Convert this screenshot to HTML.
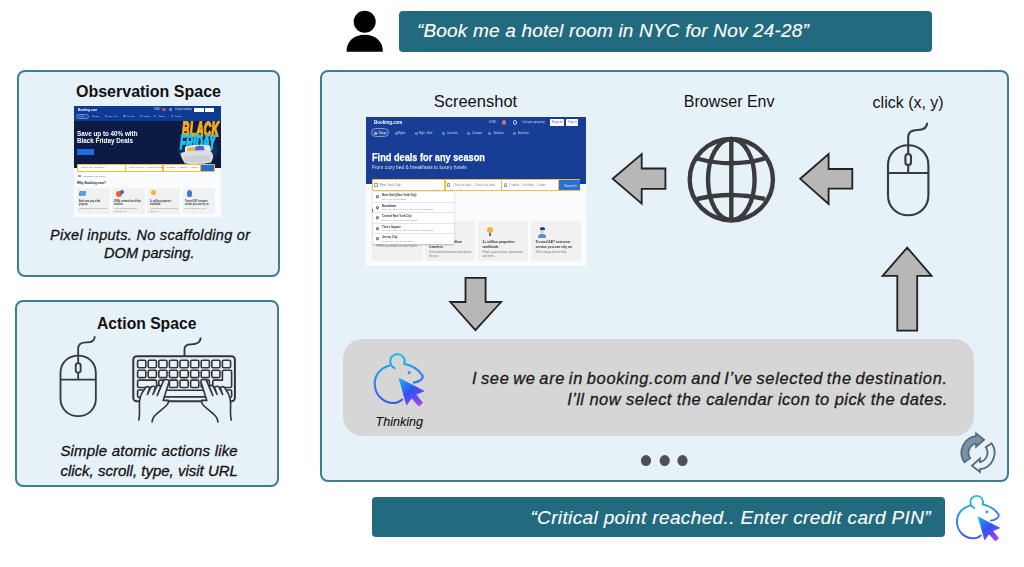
<!DOCTYPE html>
<html><head><meta charset="utf-8">
<style>
*{box-sizing:border-box;margin:0;padding:0}
html,body{width:1024px;height:567px;overflow:hidden;background:#fff}
body{position:relative;font-family:"Liberation Sans",sans-serif;color:#111}
.abs{position:absolute}
.box{position:absolute;background:#e7f1f8;border:2px solid #3e7e8e;border-radius:8px}
.banner{position:absolute;background:#226b7f;border-radius:4px;color:#fff;font-style:italic;font-size:18px;white-space:nowrap}
.t{position:absolute;white-space:nowrap;line-height:1}
.it{-webkit-text-stroke:0.3px currentColor}
svg{position:absolute;left:0;top:0;overflow:visible}
</style></head><body>

<!-- person icon -->
<svg width="1024" height="567" style="pointer-events:none">
  <circle cx="364.7" cy="21.8" r="11" fill="#000"/>
  <path d="M346.5,51.8 C346.5,41 354,34.7 364.7,34.7 C375.4,34.7 382.9,41 382.9,51.8 Z" fill="#000"/>
</svg>

<div class="banner" style="left:399px;top:11px;width:533px;height:41px"></div>
<div class="t it" id="q1" style="-webkit-text-stroke:0.12px #fff;left:417px;top:21.4px;color:#fff;font-style:italic;font-size:19px;letter-spacing:0.18px">“Book me a hotel room in NYC for Nov 24-28”</div>

<!-- observation box -->
<div class="box" style="left:17px;top:70px;width:263px;height:207px"></div>
<div class="t" id="obs" style="left:76px;top:83.75px;font-weight:bold;font-size:16px">Observation Space</div>
<div class="t it" id="px1" style="left:50px;top:227.5px;font-style:italic;font-size:14.5px;letter-spacing:0.3px">Pixel inputs. No scaffolding or</div>
<div class="t it" id="px2" style="left:104px;top:246.4px;font-style:italic;font-size:14.5px;letter-spacing:0.1px">DOM parsing.</div>

<!-- action box -->
<div class="box" style="left:15px;top:300px;width:264px;height:187px"></div>
<div class="t" id="act" style="left:97px;top:316.25px;font-weight:bold;font-size:15.7px">Action Space</div>
<div class="t it" id="sa1" style="left:60.4px;top:443.1px;font-style:italic;font-size:15px;letter-spacing:0.19px">Simple atomic actions like</div>
<div class="t it" id="sa2" style="left:60.4px;top:462.9px;font-style:italic;font-size:15px">click, scroll, type, visit URL</div>

<!-- main box -->
<div class="box" style="left:320px;top:70px;width:689px;height:412px"></div>
<div class="t" id="ss" style="left:433.7px;top:93.1px;font-size:16.5px">Screenshot</div>
<div class="t" id="be" style="left:683.8px;top:93.75px;font-size:16px">Browser Env</div>
<div class="t" id="cl" style="left:872.6px;top:94.95px;font-size:16px">click (x, y)</div>

<!-- thinking bubble -->
<div class="abs" style="left:343px;top:339px;width:631px;height:97px;background:#d6d6d6;border-radius:20px"></div>
<div class="t it" id="th" style="-webkit-text-stroke:0.1px #111;left:375.5px;top:415.7px;font-style:italic;font-size:12.6px">Thinking</div>
<div class="t it" id="l1" style="right:76.3px;top:370.2px;font-style:italic;font-size:16.4px;letter-spacing:0.7px;word-spacing:-1.5px;color:#1a1a1a">I see we are in booking.com and I’ve selected the destination.</div>
<div class="t it" id="l2" style="right:76.3px;top:391px;font-style:italic;font-size:16.5px;letter-spacing:0.44px;color:#1a1a1a">I’ll now select the calendar icon to pick the dates.</div>

<!-- bottom banner -->
<div class="banner" style="left:372px;top:497px;width:573px;height:40px"></div>
<div class="t it" id="q2" style="-webkit-text-stroke:0.12px #fff;right:93px;top:507.5px;color:#fff;font-style:italic;font-size:19px;letter-spacing:0.36px">“Critical point reached.. Enter credit card PIN”</div>

<svg width="1024" height="567">
  <!-- arrows -->
  <g fill="#b7b7b7" stroke="#222" stroke-width="1.8" stroke-linejoin="miter">
    <path d="M612.7,178.7 L641.7,154.1 L641.7,168.5 L665.4,168.5 L665.4,188.9 L641.7,188.9 L641.7,203.6 Z"/>
    <path d="M800.2,178.8 L828.6,154.1 L828.6,169 L852.3,169 L852.3,188.7 L828.6,188.7 L828.6,204 Z"/>
    <path d="M475.4,330.2 L450.3,302 L465.5,302 L465.5,277.8 L485.6,277.8 L485.6,302 L501.1,302 Z"/>
    <path d="M907.2,247.6 L882.6,275.8 L897.3,275.8 L897.3,330.6 L917.2,330.6 L917.2,275.8 L931.6,275.8 Z"/>
  </g>
  <!-- globe -->
  <g fill="none" stroke="#3b3b3d" stroke-width="4.4">
    <ellipse cx="731.3" cy="179.6" rx="41.6" ry="40.6"/>
    <ellipse cx="731.3" cy="179.6" rx="23.3" ry="40.6"/>
    <line x1="731.3" y1="139" x2="731.3" y2="220"/>
    <path d="M697,158.5 Q731,168 765,158.5"/>
    <path d="M697,199 Q731,191 765,199"/>
  </g>
  <!-- dots -->
  <g fill="#505050">
    <ellipse cx="646" cy="460.6" rx="5.1" ry="5.5"/>
    <ellipse cx="664.7" cy="460.6" rx="5.1" ry="5.5"/>
    <ellipse cx="682.5" cy="460.6" rx="5.1" ry="5.5"/>
  </g>
</svg>


<svg width="1024" height="567">
  <defs>
    <linearGradient id="mg" gradientUnits="userSpaceOnUse" x1="30" y1="4" x2="36" y2="56">
      <stop offset="0" stop-color="#1ec2e6"/>
      <stop offset="0.45" stop-color="#2a8ae8"/>
      <stop offset="1" stop-color="#3d52e8"/>
    </linearGradient>
    <linearGradient id="cg" gradientUnits="userSpaceOnUse" x1="33" y1="31" x2="53" y2="57">
      <stop offset="0" stop-color="#1fa6ef"/>
      <stop offset="0.45" stop-color="#3154f2"/>
      <stop offset="0.75" stop-color="#6a48f0"/>
      <stop offset="1" stop-color="#b840f0"/>
    </linearGradient>
  </defs>
  <g transform="translate(368,348)">
      <g fill="none" stroke="url(#mg)" stroke-width="2.1" stroke-linecap="round">
        <path d="M26.5,20.1 A7.3,7.3 0 1 1 36.3,15.9"/>
        <path d="M36.3,15.9 C43,17.2 50.5,21.5 54.5,27.5 C56,30.5 51.5,33.8 45.8,34.6"/>
        <path d="M21.6,17.4 C11.5,20.2 6.2,28 6.8,37 C7.4,47.6 16,55 25.5,55 C29,55 32,53.8 34.2,51.6"/>
      </g>
      <circle cx="41.1" cy="24.6" r="1.5" fill="url(#mg)"/>
      <path d="M31.3,30.5 L55.7,43 L47.7,46.4 L54.6,54.9 L50.9,58 L43.5,49.8 L38.7,56.7 Z" fill="url(#cg)" stroke="url(#cg)" stroke-width="1" stroke-linejoin="round"/>
    </g>
  <g transform="translate(951.1,490.5) scale(0.87)">
      <g fill="none" stroke="url(#mg)" stroke-width="2.1" stroke-linecap="round">
        <path d="M26.5,20.1 A7.3,7.3 0 1 1 36.3,15.9"/>
        <path d="M36.3,15.9 C43,17.2 50.5,21.5 54.5,27.5 C56,30.5 51.5,33.8 45.8,34.6"/>
        <path d="M21.6,17.4 C11.5,20.2 6.2,28 6.8,37 C7.4,47.6 16,55 25.5,55 C29,55 32,53.8 34.2,51.6"/>
      </g>
      <circle cx="41.1" cy="24.6" r="1.5" fill="url(#mg)"/>
      <path d="M31.3,30.5 L55.7,43 L47.7,46.4 L54.6,54.9 L50.9,58 L43.5,49.8 L38.7,56.7 Z" fill="url(#cg)" stroke="url(#cg)" stroke-width="1" stroke-linejoin="round"/>
    </g>
  <g transform="translate(888,145.3)" fill="none" stroke="#363b40" stroke-width="2.1">
      <path d="M0,20 C0,8 9,0 20.2,0 C31.4,0 40.4,8 40.4,20 V50 C40.4,62 31.4,70 20.2,70 C9,70 0,62 0,50 Z"/>
      <path d="M0,27.7 H40.4"/>
      <rect x="17.4" y="8.7" width="5.6" height="11" rx="2.8"/>
      <path d="M20.2,19.7 V27.7"/>
      <path d="M20.2,8.7 V-8 C20.2,-13 23.5,-15.3 29.5,-15.3 C35.5,-15.3 39.2,-17 39.2,-22.5"/>
    </g>
  <g transform="translate(60.5,355.6) scale(0.875,0.865)" fill="none" stroke="#363b40" stroke-width="2.1">
      <path d="M0,20 C0,8 9,0 20.2,0 C31.4,0 40.4,8 40.4,20 V50 C40.4,62 31.4,70 20.2,70 C9,70 0,62 0,50 Z"/>
      <path d="M0,27.7 H40.4"/>
      <rect x="17.4" y="8.7" width="5.6" height="11" rx="2.8"/>
      <path d="M20.2,19.7 V27.7"/>
      <path d="M20.2,8.7 V-8 C20.2,-13 23.5,-15.3 29.5,-15.3 C35.5,-15.3 39.2,-17 39.2,-22.5"/>
    </g>
  <!-- refresh -->
  <g transform="translate(978,452.7) scale(0.95)" stroke="#566a7a" stroke-width="1.9" stroke-linejoin="miter">
    <path d="M-14.3,10 A17.5,17.5 0 0 1 -2,-17.4 L-2,-20.3 L6.4,-13.7 L-2,-6.2 L-2,-9.8 A10,10 0 0 0 -8.2,5.7 Z" fill="#7a91a7"/>
    <path d="M-14.3,10 A17.5,17.5 0 0 1 -2,-17.4 L-2,-20.3 L6.4,-13.7 L-2,-6.2 L-2,-9.8 A10,10 0 0 0 -8.2,5.7 Z" fill="#e7f1f8" transform="rotate(180)"/>
  </g>
</svg>


<svg width="1024" height="567">
 <g fill="none" stroke="#333538" stroke-width="1.6">
  <rect x="133.3" y="356.2" width="101.6" height="45" rx="3.5" stroke-width="2"/>
  <path d="M184.5,356 V349 C184.5,345.5 186.5,344.3 191,344.3 C197,344.3 200.7,342.5 200.7,337.5" stroke-width="1.8"/>
  <rect x="137.6" y="360.3" width="8.2" height="7.4" rx="1.3"/>
  <rect x="148.2" y="360.3" width="8.2" height="7.4" rx="1.3"/>
  <rect x="158.8" y="360.3" width="8.2" height="7.4" rx="1.3"/>
  <rect x="169.4" y="360.3" width="8.2" height="7.4" rx="1.3"/>
  <rect x="180.0" y="360.3" width="8.2" height="7.4" rx="1.3"/>
  <rect x="190.6" y="360.3" width="8.2" height="7.4" rx="1.3"/>
  <rect x="201.2" y="360.3" width="8.2" height="7.4" rx="1.3"/>
  <rect x="211.8" y="360.3" width="8.2" height="7.4" rx="1.3"/>
  <rect x="222.4" y="360.3" width="8.2" height="7.4" rx="1.3"/>
  <rect x="137.6" y="370.2" width="8.2" height="7.4" rx="1.3"/>
  <rect x="148.2" y="370.2" width="8.2" height="7.4" rx="1.3"/>
  <rect x="158.8" y="370.2" width="8.2" height="7.4" rx="1.3"/>
  <rect x="169.4" y="370.2" width="8.2" height="7.4" rx="1.3"/>
  <rect x="180.0" y="370.2" width="8.2" height="7.4" rx="1.3"/>
  <rect x="190.6" y="370.2" width="8.2" height="7.4" rx="1.3"/>
  <rect x="201.2" y="370.2" width="8.2" height="7.4" rx="1.3"/>
  <rect x="211.8" y="370.2" width="8.2" height="7.4" rx="1.3"/>
  <rect x="137.6" y="380.1" width="19.0" height="7.4" rx="1.3"/>
  <rect x="158.8" y="380.1" width="8.2" height="7.4" rx="1.3"/>
  <rect x="169.4" y="380.1" width="8.2" height="7.4" rx="1.3"/>
  <rect x="180.0" y="380.1" width="8.2" height="7.4" rx="1.3"/>
  <rect x="190.6" y="380.1" width="8.2" height="7.4" rx="1.3"/>
  <rect x="201.2" y="380.1" width="8.2" height="7.4" rx="1.3"/>
  <path d="M223.6,370.2 H230.4 Q231.6,370.2 231.6,371.5 V386.2 Q231.6,387.5 230.4,387.5 H214 Q212.8,387.5 212.8,386.2 V381.4 Q212.8,380.1 214,380.1 H222.4 V371.4 Q222.4,370.2 223.6,370.2 Z"/>
  <rect x="137.6" y="390.0" width="6.5" height="7.4" rx="1.3"/>
  <rect x="224.5" y="390.0" width="7.1" height="7.4" rx="1.3"/>
  <path d="M146,390.3 H221.5 M146,396.9 H221.5"/>
 </g>
 <g fill="#e7f1f8" stroke="#333538" stroke-width="1.6" stroke-linejoin="round" stroke-linecap="round">
  <path d="M138.8,420 C139.8,415 139.6,411 139.4,406 C139.2,401 140,397 142,393 L145.6,387.6 C146.6,386.2 149.4,386.4 149.6,388 L147.4,394.5 L151,387.2 C152,385.8 155,386 155.4,387.4 L152.9,394.5 L156.8,386.4 C157.8,384.8 160.8,385.2 160.6,386.8 L157.2,395.4 L163.2,381.4 C164.2,378.6 169.4,379 169,381.9 L163.2,400.4 L168.4,400.4 C168.6,402 168,403.6 167.2,404.8 C163,409 157,413 154.3,416.3 C153,418 152.2,420 152.1,422"/>
 </g>
 <g transform="translate(370,0) scale(-1,1)" fill="#e7f1f8" stroke="#333538" stroke-width="1.6" stroke-linejoin="round" stroke-linecap="round">
  <path d="M138.8,420 C139.8,415 139.6,411 139.4,406 C139.2,401 140,397 142,393 L145.6,387.6 C146.6,386.2 149.4,386.4 149.6,388 L147.4,394.5 L151,387.2 C152,385.8 155,386 155.4,387.4 L152.9,394.5 L156.8,386.4 C157.8,384.8 160.8,385.2 160.6,386.8 L157.2,395.4 L163.2,381.4 C164.2,378.6 169.4,379 169,381.9 L163.2,400.4 L168.4,400.4 C168.6,402 168,403.6 167.2,404.8 C163,409 157,413 154.3,416.3 C153,418 152.2,420 152.1,422"/>
 </g>
</svg>


<style>
.th{position:absolute;overflow:hidden;font-family:"Liberation Sans",sans-serif}
.th div{position:absolute;white-space:nowrap;line-height:1}
.wb{color:#fff;font-weight:bold}
.wt{color:#fff}
</style>
<!-- obs thumbnail -->
<div class="th" style="left:74px;top:105.5px;width:146.5px;height:111px;background:#fbfcfd;filter:blur(0.4px)">
  <div style="left:0;top:0;width:146.5px;height:15px;background:#0d3b94"></div>
  <div class="wb" style="left:4.2px;top:2.2px;font-size:4px;transform:scaleX(.76);transform-origin:left top">Booking.com</div>
  <div class="wt" style="left:80px;top:2.6px;font-size:3px;opacity:.8">USD</div>
  <div style="left:88px;top:2.4px;width:3.5px;height:3.5px;border-radius:50%;background:#c9576a"></div>
  <div style="left:95px;top:2.4px;width:3.4px;height:3.4px;border-radius:50%;border:0.5px solid #cdd6ee"></div>
  <div class="wt" style="left:101px;top:2.6px;font-size:3px;opacity:.8;transform:scaleX(.72);transform-origin:left top">List your property</div>
  <div style="left:120px;top:2.2px;width:9.7px;height:4.2px;background:#fff"></div>
  <div style="left:131px;top:2.2px;width:8.6px;height:4.2px;background:#fff"></div>
  <div style="left:2.3px;top:8.4px;width:12.4px;height:5.1px;border-radius:3px;border:0.5px solid #6f8ccc;background:#1d4599"></div>
  <div style="left:18.1px;top:9.8px;width:2.2px;height:2px;border:0.4px solid #7f97d0;border-radius:1px"></div>
  <div class="wt" style="left:19.8px;top:9.9px;font-size:2.3px;opacity:.8;transform:scaleX(0.735);transform-origin:left top">Flights</div>
  <div style="left:31.1px;top:9.8px;width:2.2px;height:2px;border:0.4px solid #7f97d0;border-radius:1px"></div>
  <div class="wt" style="left:34.1px;top:9.9px;font-size:2.3px;opacity:.8;transform:scaleX(0.673);transform-origin:left top">Flight + Hotel</div>
  <div style="left:49.4px;top:9.8px;width:2.2px;height:2px;border:0.4px solid #7f97d0;border-radius:1px"></div>
  <div class="wt" style="left:52.7px;top:9.9px;font-size:2.3px;opacity:.8;transform:scaleX(0.714);transform-origin:left top">Car rental</div>
  <div style="left:66.0px;top:9.8px;width:2.2px;height:2px;border:0.4px solid #7f97d0;border-radius:1px"></div>
  <div class="wt" style="left:69.3px;top:9.9px;font-size:2.3px;opacity:.8;transform:scaleX(0.898);transform-origin:left top">Cruises</div>
  <div style="left:80.0px;top:9.8px;width:2.2px;height:2px;border:0.4px solid #7f97d0;border-radius:1px"></div>
  <div class="wt" style="left:84.0px;top:9.9px;font-size:2.3px;opacity:.8;transform:scaleX(0.613);transform-origin:left top">Attractions</div>
  <div style="left:96.5px;top:9.8px;width:2.2px;height:2px;border:0.4px solid #7f97d0;border-radius:1px"></div>
  <div class="wt" style="left:99.9px;top:9.9px;font-size:2.3px;opacity:.8;transform:scaleX(0.611);transform-origin:left top">Airport taxis</div>
  <div class="wt" style="left:4.5px;top:9.9px;font-size:2.3px;opacity:.8">Stays</div>
  <div style="left:0;top:15px;width:146.5px;height:47px;background:#0b1b43"></div>
  <div class="wb" style="left:3px;top:25px;font-size:6.3px">Save up to 40% with</div>
  <div class="wb" style="left:3px;top:32.7px;font-size:6.3px">Black Friday Deals</div>
  <div style="left:3px;top:43.8px;width:17px;height:6px;background:#1a6be0"></div>
  <div style="left:104px;top:31px;width:40px;height:26px;border-radius:50%;background:radial-gradient(#1d4a8c,rgba(11,27,67,0))"></div>
  <div style="left:108px;top:14.7px;font-size:10.2px;font-weight:bold;font-style:italic;color:#f6a81c;letter-spacing:0.3px;-webkit-text-stroke:0.9px #f6a81c;transform:scaleY(1.95);transform-origin:left top">BLACK</div>
  <div style="left:106px;top:27.8px;font-size:9.6px;font-weight:bold;font-style:italic;color:#22c4ea;letter-spacing:0.1px;-webkit-text-stroke:0.8px #22c4ea;transform:scaleY(2.05);transform-origin:left top">FRIDAY</div>
  <svg style="position:absolute;left:0;top:0" width="146.5" height="111">
    <path d="M111,41 Q120,37.5 136,39.5 L137,45 L111,46 Z" fill="#e8e8ec"/>
    <path d="M113,42.5 Q117,40.5 122,42 L122.5,46 L113.5,46.5 Z" fill="#e2b53a"/>
    <path d="M121,41 Q126,39 130,40.5 L130.5,45 L121.5,45.5 Z" fill="#4a6cc8"/>
    <path d="M106.5,47 Q118,43.5 135,44.5 Q139.5,46 139,52 L137,56.5 Q126,59 111,57.5 Q107,52 106.5,47 Z" fill="#dcdde2"/>
    <path d="M110,50 Q122,48.5 136,50 L135.5,55 Q124,57 111.5,55.5 Z" fill="#c4c6cc" opacity=".6"/>
    <path d="M110,57.5 L109.5,60 M136,56.5 L136.5,59.5" stroke="#8a6a40" stroke-width="0.8"/>
  </svg>
  <div style="left:3.1px;top:58.9px;width:137.7px;height:7.6px;background:#f2bd3b;border-radius:0.8px"></div>
  <div style="left:3.9px;top:59.7px;width:47.3px;height:6.2px;background:#fff"></div>
  <div style="left:52.2px;top:59.7px;width:36.3px;height:6.2px;background:#fff"></div>
  <div style="left:89.5px;top:59.7px;width:36.8px;height:6.2px;background:#fff"></div>
  <div style="left:7px;top:61.6px;font-size:2.4px;color:#666">Where are you going?</div>
  <div style="left:55px;top:61.6px;font-size:2.4px;color:#666">Check-in date — Check-out date</div>
  <div style="left:93px;top:61.6px;font-size:2.4px;color:#666">2 adults · 0 children · 1 room</div>
  <div class="wt" style="left:129px;top:61.4px;font-size:2.8px">Search</div>
  <div style="left:127px;top:59.5px;width:13.4px;height:6.4px;background:#1f6ee0"></div>
  <div style="left:3.8px;top:69px;width:3px;height:2.6px;border:0.4px solid #999"></div>
  <div style="left:3.1px;top:75.6px;font-size:4.2px;font-weight:bold;color:#222;transform:scaleX(.74);transform-origin:left top">Why Booking.com?</div><div style="left:8px;top:69.3px;font-size:2.2px;color:#666">Add flights to my search</div>
  <div style="left:3.1px;top:82px;width:32.7px;height:26.4px;background:#f0f1f2;border-radius:1px"></div>
  <div style="left:38.3px;top:82px;width:32.5px;height:26.4px;background:#f0f1f2;border-radius:1px"></div>
  <div style="left:73.4px;top:82px;width:32.6px;height:26.4px;background:#f0f1f2;border-radius:1px"></div>
  <div style="left:108.6px;top:82px;width:32.2px;height:26.4px;background:#f0f1f2;border-radius:1px"></div>
  <div style="left:5px;top:85px;width:7px;height:5px;background:#5a9ae6;border-radius:1px;transform:skewX(-10deg)"></div>
  <div style="left:42px;top:85.5px;width:6px;height:5.5px;background:#e56a2a;border-radius:50%"></div>
  <div style="left:46px;top:84.5px;width:4px;height:4px;background:#2f6be0;border-radius:50%"></div>
  <div style="left:76.5px;top:84.5px;width:5px;height:5px;background:#f0b830;border-radius:50%"></div>
  <div style="left:112.5px;top:84px;width:5px;height:7px;background:#3b7bd6;border-radius:50% 50% 40% 40%"></div>
  <div style="left:5px;top:95.6px;font-size:2.6px;font-weight:bold;color:#333;transform:scaleX(.82);transform-origin:left top">Book now, pay at the<br>property</div>
  <div style="left:40px;top:95.6px;font-size:2.6px;font-weight:bold;color:#333;transform:scaleX(.82);transform-origin:left top">300M+ reviews from fellow<br>travelers</div>
  <div style="left:75.5px;top:95.6px;font-size:2.6px;font-weight:bold;color:#333;transform:scaleX(.82);transform-origin:left top">2+ million properties<br>worldwide</div>
  <div style="left:110.5px;top:95.6px;font-size:2.6px;font-weight:bold;color:#333;transform:scaleX(.82);transform-origin:left top">Trusted 24/7 customer<br>service you can rely on</div>
  <div style="left:5px;top:101.8px;font-size:2.2px;color:#777;transform:scaleX(.85);transform-origin:left top">FREE cancellation on most rooms</div>
  <div style="left:40px;top:101.8px;font-size:2.2px;color:#777;transform:scaleX(.85);transform-origin:left top">Get trusted information from<br>guests like you</div>
  <div style="left:75.5px;top:101.8px;font-size:2.2px;color:#777;transform:scaleX(.85);transform-origin:left top">Hotels, guest houses, apartments,<br>and more…</div>
  <div style="left:110.5px;top:101.8px;font-size:2.2px;color:#777;transform:scaleX(.85);transform-origin:left top">We're always here to help</div>
</div>

<!-- main screenshot -->
<div class="th" style="left:365.5px;top:117.2px;width:220.8px;height:148.5px;background:#fafbfc;filter:blur(0.4px)">
  <div style="left:0;top:0;width:220.8px;height:67px;background:#173d95"></div>
  <div class="wb" style="left:8.5px;top:2.4px;font-size:5.6px;transform:scaleX(.8);transform-origin:left top">Booking.com</div>
  <div class="wt" style="left:123.3px;top:4.3px;font-size:3.6px;opacity:.75">USD</div>
  <div style="left:136.5px;top:3.3px;width:4.4px;height:4.4px;border-radius:50%;background:#d36a74"></div>
  <div style="left:147px;top:3.1px;width:4.6px;height:4.6px;border-radius:50%;border:0.6px solid #c0cbe8"></div>
  <div class="wt" style="left:156.5px;top:4.3px;font-size:3.6px;opacity:.75;transform:scaleX(.82);transform-origin:left top">List your property</div>
  <div style="left:184.7px;top:2.2px;width:13.4px;height:6.6px;background:#fff;border-radius:.5px"></div>
  <div style="left:200.2px;top:2.2px;width:12.7px;height:6.6px;background:#fff;border-radius:.5px"></div>
  <div style="left:186.5px;top:3.9px;font-size:3px;color:#5575b8">Register</div>
  <div style="left:202.5px;top:3.9px;font-size:3px;color:#5575b8">Sign in</div>
  <div style="left:5.7px;top:11.3px;width:18.3px;height:8.5px;border-radius:5px;border:0.7px solid #7d97d0;background:#26499e"></div>
  <div style="left:8.5px;top:14.4px;width:3.2px;height:3px;border:0.5px solid #c9d3ee;border-radius:1px"></div><div class="wt" style="left:13px;top:14.9px;font-size:3.3px;opacity:.85">Stays</div>
  <div style="left:29.5px;top:14.6px;width:3.4px;height:3.2px;border:0.5px solid #a9b8e0;border-radius:1.5px"></div>
  <div class="wt" style="left:32.0px;top:15px;font-size:3.3px;opacity:.8;transform:scaleX(0.735);transform-origin:left top">Flights</div>
  <div style="left:49.0px;top:14.6px;width:3.4px;height:3.2px;border:0.5px solid #a9b8e0;border-radius:1.5px"></div>
  <div class="wt" style="left:53.5px;top:15px;font-size:3.3px;opacity:.8;transform:scaleX(0.673);transform-origin:left top">Flight + Hotel</div>
  <div style="left:76.5px;top:14.6px;width:3.4px;height:3.2px;border:0.5px solid #a9b8e0;border-radius:1.5px"></div>
  <div class="wt" style="left:81.5px;top:15px;font-size:3.3px;opacity:.8;transform:scaleX(0.714);transform-origin:left top">Car rental</div>
  <div style="left:101.5px;top:14.6px;width:3.4px;height:3.2px;border:0.5px solid #a9b8e0;border-radius:1.5px"></div>
  <div class="wt" style="left:106.5px;top:15px;font-size:3.3px;opacity:.8;transform:scaleX(0.898);transform-origin:left top">Cruises</div>
  <div style="left:122.5px;top:14.6px;width:3.4px;height:3.2px;border:0.5px solid #a9b8e0;border-radius:1.5px"></div>
  <div class="wt" style="left:128.5px;top:15px;font-size:3.3px;opacity:.8;transform:scaleX(0.613);transform-origin:left top">Attractions</div>
  <div style="left:147.3px;top:14.6px;width:3.4px;height:3.2px;border:0.5px solid #a9b8e0;border-radius:1.5px"></div>
  <div class="wt" style="left:152.5px;top:15px;font-size:3.3px;opacity:.8;transform:scaleX(0.611);transform-origin:left top">Airport taxis</div>
  <div class="wb" style="left:6.4px;top:34.5px;font-size:10.6px;-webkit-text-stroke:0.25px #fff;transform:scaleX(.868);transform-origin:left top">Find deals for any season</div>
  <div class="wt" style="left:6.4px;top:47.4px;font-size:5.8px;opacity:.85;transform:scaleX(.84);transform-origin:left top">From cozy bed &amp; breakfasts to luxury hotels</div>
  <div style="left:6.4px;top:62.1px;width:208.6px;height:12px;background:#eec04a;border-radius:1px"></div>
  <div style="left:7.2px;top:62.9px;width:71.6px;height:10.4px;background:#fff"></div>
  <div style="left:80px;top:62.9px;width:55px;height:10.4px;background:#fff"></div>
  <div style="left:136.2px;top:62.9px;width:56.8px;height:10.4px;background:#fff"></div>
  <div style="left:193.9px;top:62.9px;width:20.4px;height:10.4px;background:#2b6fd4"></div>
  <div style="left:8.5px;top:66.3px;width:3.6px;height:3.2px;border:0.5px solid #999;border-radius:0.5px"></div><div style="left:14px;top:66.8px;font-size:3.4px;color:#777">New York City</div>
  <div style="left:81.5px;top:66.2px;width:3.4px;height:3.4px;border:0.5px solid #999;border-radius:0.5px"></div><div style="left:87px;top:67.2px;font-size:3.4px;color:#888;transform:scaleX(.85);transform-origin:left top">Check-in date — Check-out date</div>
  <div style="left:138.5px;top:66px;width:3px;height:4px;border:0.5px solid #999;border-radius:50% 50% 0 0"></div><div style="left:143px;top:67.2px;font-size:3.4px;color:#888;transform:scaleX(.85);transform-origin:left top">2 adults · 0 children · 1 room</div>
  <div class="wt" style="left:198.5px;top:66.6px;font-size:4px;opacity:.8">Search</div>
  <div style="left:6.2px;top:103.8px;width:51px;height:39.7px;background:#f1f1f2;border-radius:1.5px"></div>
  <div style="left:59.5px;top:103.8px;width:50.2px;height:39.7px;background:#f1f1f2;border-radius:1.5px"></div>
  <div style="left:112.2px;top:103.8px;width:50.3px;height:39.7px;background:#f1f1f2;border-radius:1.5px"></div>
  <div style="left:165.5px;top:103.8px;width:50.2px;height:39.7px;background:#f1f1f2;border-radius:1.5px"></div>
  <div style="left:121px;top:109.5px;width:6.5px;height:6.5px;border-radius:50%;background:#eeb73a"></div>
  <div style="left:123.5px;top:116px;width:2px;height:3px;background:#3a70c8"></div>
  <div style="left:172.5px;top:117px;width:8px;height:4px;border-radius:4px 4px 1px 1px;background:#4b93e0"></div>
  <div style="left:174.5px;top:111.5px;width:4px;height:5px;border-radius:50%;background:#f1c9a5"></div>
  <div style="left:174px;top:110px;width:5px;height:3px;border-radius:50% 50% 0 0;background:#1d3f8c"></div>
  <div style="left:63.8px;top:123px;font-size:3.3px;font-weight:bold;color:#333;line-height:1.35">&nbsp;&nbsp;&nbsp;&nbsp;&nbsp;&nbsp;&nbsp;&nbsp;&nbsp;&nbsp;&nbsp;&nbsp;&nbsp;&nbsp;&nbsp;&nbsp;&nbsp;&nbsp;&nbsp;&nbsp;&nbsp;m fellow<br>travelers</div>
  <div style="left:63.8px;top:134px;font-size:2.7px;color:#777;line-height:1.4">Get trusted information from guests<br>like you</div>
  <div style="left:117px;top:123px;font-size:3.3px;font-weight:bold;color:#333;line-height:1.35">2+ million properties<br>worldwide</div>
  <div style="left:117px;top:134px;font-size:2.7px;color:#777;line-height:1.4">Hotels, guest houses, apartments,<br>and more…</div>
  <div style="left:170px;top:123px;font-size:3.3px;font-weight:bold;color:#333;line-height:1.35">Trusted 24/7 customer<br>service you can rely on</div>
  <div style="left:170px;top:134px;font-size:2.7px;color:#777;line-height:1.4">We're always here to help</div>
  <div style="left:11px;top:128.5px;font-size:2.7px;color:#777">FREE cancellation on most rooms</div>
  <div style="left:6.4px;top:91.5px;font-size:5px;font-weight:bold;color:#222">Why Booking.com?</div>
  <!-- dropdown -->
  <div style="left:7px;top:74.5px;width:81.7px;height:52.5px;background:#fff;box-shadow:0 0.5px 2px rgba(0,0,0,.25);border-radius:1px"></div>
<div style="left:10.3px;top:78.1px;width:3.2px;height:3.2px;border:0.7px solid #666;border-radius:50% 50% 50% 0;transform:rotate(-45deg)"></div>
<div style="left:16px;top:77.2px;font-size:3.2px;font-weight:bold;color:#333;transform:scaleX(.9);transform-origin:left top">New York (New York City)</div>
<div style="left:16px;top:81.5px;font-size:2.5px;color:#888;transform:scaleX(.9);transform-origin:left top">New York, United States</div>
<div style="left:7px;top:84.8px;width:81.7px;height:0.4px;background:#e4e4e4"></div>
<div style="left:10.3px;top:88.6px;width:3.2px;height:3.2px;border:0.7px solid #666;border-radius:50% 50% 50% 0;transform:rotate(-45deg)"></div>
<div style="left:16px;top:87.7px;font-size:3.2px;font-weight:bold;color:#333;transform:scaleX(.9);transform-origin:left top">Manhattan</div>
<div style="left:16px;top:92.0px;font-size:2.5px;color:#888;transform:scaleX(.9);transform-origin:left top">New York (New York City), New York, United States</div>
<div style="left:7px;top:95.3px;width:81.7px;height:0.4px;background:#e4e4e4"></div>
<div style="left:10.3px;top:99.1px;width:3.2px;height:3.2px;border:0.7px solid #666;border-radius:50% 50% 50% 0;transform:rotate(-45deg)"></div>
<div style="left:16px;top:98.2px;font-size:3.2px;font-weight:bold;color:#333;transform:scaleX(.9);transform-origin:left top">Central New York City</div>
<div style="left:16px;top:102.5px;font-size:2.5px;color:#888;transform:scaleX(.9);transform-origin:left top">New York, New York, United States</div>
<div style="left:7px;top:105.8px;width:81.7px;height:0.4px;background:#e4e4e4"></div>
<div style="left:10.3px;top:109.6px;width:3.2px;height:3.2px;border:0.7px solid #666;border-radius:50% 50% 50% 0;transform:rotate(-45deg)"></div>
<div style="left:16px;top:108.7px;font-size:3.2px;font-weight:bold;color:#333;transform:scaleX(.9);transform-origin:left top">Times Square</div>
<div style="left:16px;top:113.0px;font-size:2.5px;color:#888;transform:scaleX(.9);transform-origin:left top">New York (New York City), New York, United States</div>
<div style="left:7px;top:116.3px;width:81.7px;height:0.4px;background:#e4e4e4"></div>
<div style="left:10.3px;top:120.1px;width:3.2px;height:3.2px;border:0.7px solid #666;border-radius:50% 50% 50% 0;transform:rotate(-45deg)"></div>
<div style="left:16px;top:119.2px;font-size:3.2px;font-weight:bold;color:#333;transform:scaleX(.9);transform-origin:left top">Jersey City</div>
<div style="left:16px;top:123.5px;font-size:2.5px;color:#888;transform:scaleX(.9);transform-origin:left top">New Jersey (NJ), United States</div>
</div>

</body></html>
